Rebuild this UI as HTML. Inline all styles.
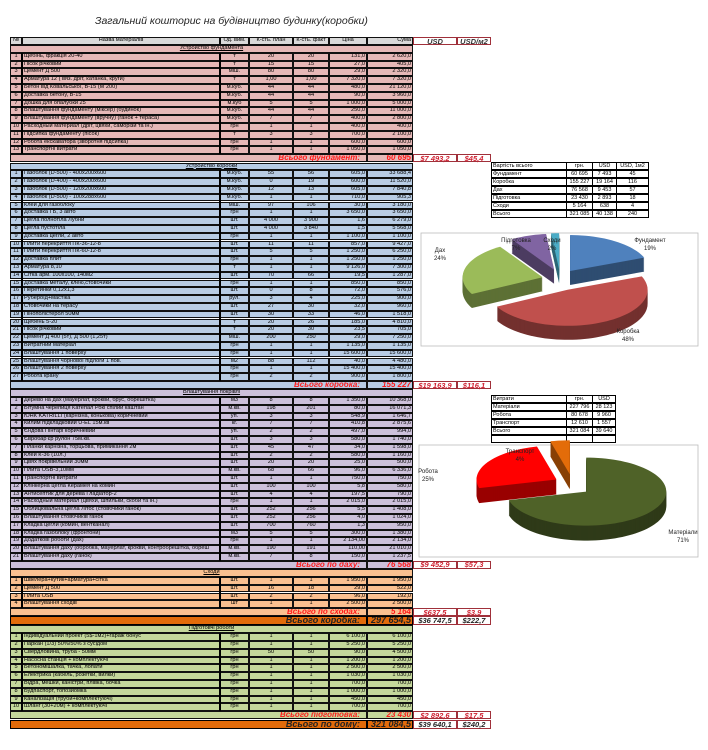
<!DOCTYPE html>
<html><head><meta charset="utf-8">
<style>
body{margin:0;background:#fff;width:708px;height:750px;overflow:hidden;font-family:"Liberation Sans",sans-serif;position:relative}
.c{position:absolute;box-sizing:border-box;border:0.6px solid #111;font-size:5.6px;line-height:1;white-space:nowrap;overflow:hidden;padding:0 1px;display:flex;align-items:center}
.l{justify-content:flex-start}.m{justify-content:center}.r{justify-content:flex-end}
.tot{color:#ff1a1a;font-style:italic;font-weight:bold;font-size:8px}
.usd{position:absolute;box-sizing:border-box;border:1px solid #a0303a;background:#fff;color:#d02030;font-style:italic;font-weight:bold;font-size:7.5px;display:flex;align-items:center;justify-content:center}
.tb{position:absolute;box-sizing:border-box;border:1px solid #000;font-size:5.5px;display:flex;align-items:center;padding:0 1px;background:#fff}
#title{position:absolute;left:95px;top:15px;font-size:10.5px;font-style:italic;color:#222}
</style></head><body>
<div id="title">Загальний кошторис на будівництво будинку(коробки)</div>
<div id="sheet"></div>
<svg id="charts" width="708" height="750" style="position:absolute;left:0;top:0;pointer-events:none"></svg>
<script>
const fundRows=["Щебінь, фракція 20-40|т|20|20|131,0|2 620,0","Пісок річковий|т|15|15|27,0|405,0","Цемент Д 500|міш.|80|80|29,0|2 320,0","Арматура 12 ( вяз. дріт, катанка, круги)|т|1,00|1,00|7 320,0|7 320,0","Бетон від Ковальської, В-15 (М 200)|м.куб.|44|44|480,0|21 120,0","Доставка бетону, В-15|м.куб.|44|44|90,0|3 960,0","Дошка для опалубки 25|м.куб|5|5|1 000,0|5 000,0","Влаштування фундаменту (міксер) (будинок)|м.куб.|44|44|250,0|11 000,0","Влаштування фундаменту (вручну) (ганок + тераса)|м.куб.|7|7|400,0|2 800,0","Расходный материал (дріт, цвяхи, саморізи та ін.)|грн|1|1|400,0|400,0","Підсипка фундаменту (пісок)|т|3|3|700,0|2 100,0","Робота екскаватора (зворотня підсипка)|грн|1|1|600,0|600,0","Транспортні витрати|грн|1|1|1 050,0|1 050,0"];
const korRows=["Газоблок (D-500) - 400x200x600|м.куб.|55|56|605,0|33 688,4","Газоблок (D-400) - 400x200x600|м.куб.|0|19|600,0|11 520,0","Газоблок (D-500) - 120x200x600|м.куб.|12|13|605,0|7 840,8","Газоблок (D-500) - 100x288x600|м.куб.|1|1|710,0|905,3","Клей для газоблоку|міш.|97|106|30,0|3 180,0","Доставка  ГБ, 3 авто|грн|1|1|3 650,0|3 650,0","Цегла  полнотіла Лубни|шт.|4 000|3 900|1,6|6 279,0","Цегла  пустотіла|шт.|4 000|3 840|1,5|5 568,0","Доставка  цегли, 2 авто|грн|1|1|1 100,0|1 100,0","Плити перекриття ПК-36-12-8|шт.|11|11|857,0|9 427,0","Плити перекриття ПК-60-12-8|шт.|5|5|1 250,0|6 250,0","Доставка плит|грн|1|1|1 250,0|1 250,0","Арматура 8,10|т|1|1|9 126,0|7 300,0","Сітка арм. 100x100, 140м2|шт.|70|66|19,5|1 287,0","Доставка металу, клею,стовбчики|грн|1|1|850,0|850,0","Перетинки 0,12x1,3|шт.|0|8|72,0|576,0","Рубероїд+мастіка|рул.|3|4|225,0|900,0","Стовбчики на терасу|шт.|27|30|32,0|960,0","Пінополістерол 50мм|шт.|30|33|46,0|1 518,0","Щебень 5-20|т|20|26|185,0|4 810,0","Пісок річковий|т|20|30|23,5|705,0","Цемент  Д 400 (5т),  Д 500 (1,25т)|міш.|200|250|29,0|7 250,0","Витратний матеріал|грн|1|1|1 135,0|1 135,0","Влаштування 1 поверху|грн|1|1|15 600,0|15 600,0","Влаштування чорнової підлоги 1 пов.|м2|88|112|40,0|4 480,0","Влаштування 2 поверху|грн|1|1|15 400,0|15 400,0","Робота крану|грн|2|2|900,0|1 800,0"];
const dakhRows=["Дерево на дах (мауерлат, крокви, брус, обрешітка)|м3|8|8|1 350,0|10 368,0","Бітумна черепиця Катепал Рокі спілий каштан|м.кв.|198|201|80,0|16 071,3","ЮНК KATRILLI (карнізна, конькова) коричневий|уп.|3|3|548,9|1 646,7","Килим підкладковий U-EL 15м.кв|кг.|7|7|410,8|2 875,6","Єндова Пінтарі коричневий|уп.|2|2|497,0|994,0","Євробар'єр  рулон 75м.кв.|шт.|3|3|580,0|1 740,0","Планки карнізна, торцьова, примикання 2м|шт.|45|47|34,0|1 598,0","Клей К-36 (10л.)|шт.|2|2|580,0|1 160,0","Цвях покрівельний 30мм|шт.|20|20|25,0|500,0","Плита  OSB-3,10мм|м.кв.|68|66|96,0|6 336,0","Транспортні витрати|шт.|1|1|750,0|750,0","Клінкерна цегла Керамея на комин|шт.|100|100|5,8|580,0","Антисептик для  дерева Гладіатор-2|шт.|4|4|197,5|790,0","Расходный материал (цвяхи, шпильки, скоби та ін.)|грн|1|1|2 015,0|2 015,0","Облицювальна цегла Літос (стовбчики ганок)|шт.|252|256|5,5|1 408,0","Влаштування стовбчиків ганок|шт.|252|256|4,0|1 024,0","Кладка цегли (комин, вентканал)|шт.|700|760|1,3|950,0","Кладка газоблоку (фронтони)|м3|5|5|300,0|1 380,0","Додаткові роботи (дах)|грн|1|1|2 134,00|2 134,0","Влаштування дахy (обробка, мауерлат, крокви, контробрешітка, обреш|м.кв.|190|191|110,00|21 010,0","Влаштування даху (ганок)|м.кв.|7|8|150,0|1 237,5"];
const stairRows=["Швелера+кутик+арматура+сітка|шт.|1|1|1 950,0|1 950,0","Цемент  Д 500|шт.|16|18|29,0|522,0","Плита  OSB|шт.|2|2|96,0|192,0","Влаштування сходів|шт|1|1|2 500,0|2 500,0"];
const prepRows=["Індивідуальний проект (5$-1м2)+гараж бонус|грн|1|1|6 100,0|6 100,0","Паркан (1/3) 50%/50% з сусідом|грн|1|1|5 250,0|5 250,0","Свердловина, труба - 50мм|грн|50|50|90,0|4 500,0","Насосна станція + комплектуючі|грн|1|1|1 200,0|1 200,0","Бетономішалка, тачка, лопати|грн|1|1|2 500,0|2 500,0","Електрика (кабель, розетки, вилки)|грн|1|1|1 030,0|1 030,0","Відра, мешки, каністри, плівка, бочка|грн|1|1|700,0|700,0","Будпаспорт, топозйомка|грн|1|1|1 000,0|1 000,0","Каналізація (труби+комплектуючі)|грн|1|1|450,0|450,0","Шланг (30+20м) + комплектуючі|грн|1|1|700,0|700,0"];

const sheet=document.getElementById('sheet');
const X=[10,22,220,249,293,329,367,413,457,491];
const R=7.8;
function cell(x,y,w,h,txt,cls,bg,name){const d=document.createElement('div');d.className='c '+cls;d.style.cssText=`left:${x}px;top:${y}px;width:${w}px;height:${h}px;background:${bg}`;d.textContent=txt;


sheet.appendChild(d);return d;}
function usd(x,y,w,h,txt,color,name){const d=document.createElement('div');d.className='usd';d.style.cssText=`left:${x}px;top:${y}px;width:${w}px;height:${h}px;`+(color?`color:${color}`:'');d.textContent=txt;


sheet.appendChild(d);}
function vbar(x,y,h,name){const d=document.createElement('div');d.style.cssText=`position:absolute;left:${x-1}px;top:${y}px;width:2px;height:${h}px;background:#000`;


sheet.appendChild(d);}

const hdr=["№","Назва матеріалів","Од. вим.","К-сть. план","К-сть. факт","Ціна","Сума"];
let y=37;
hdr.forEach((t,i)=>cell(X[i],y,X[i+1]-X[i],8,t,i==6?'r':'m','#d9d9d9','header-'+i));
usd(413,37,44,8,'USD','#333','usd-header');usd(457,37,34,8,'USD/м2','#333','usd-m2-header');
y=45;
function section(title,rows,bg,totLabel,totVal,u1,u2,key){
  cell(10,y,403,R,title,'m',bg,key+'-section-title').style.textDecoration='underline';y+=R;
  const y0=y;
  rows.forEach((r,i)=>{const p=r.split('|');const vals=[String(i+1),...p];
    vals.forEach((t,j)=>cell(X[j],y,X[j+1]-X[j],R,t,j==1?'l':(j>=5?'r':'m'),bg,key+'-row-'+(i+1)+'-col-'+j));y+=R;});
  vbar(22,y0,y-y0,key+'-divider-left');vbar(220,y0,y-y0,key+'-divider-right');
  const t=cell(10,y,357,R+0.5,totLabel,'r tot',bg,key+'-total-label');t.style.paddingRight='6px';
  cell(367,y,46,R+0.5,totVal,'r tot',bg,key+'-total-value');
  if(u1){usd(413,y,44,R+0.5,u1,null,key+'-total-usd');usd(457,y,34,R+0.5,u2,null,key+'-total-usd-m2');}
  y+=R+0.5;
}
section('Устройство фундамента',fundRows,'#e6b8b7','Всього  фундамент:','60 695','$7 493,2','$45,4','fund');
section('Устройство коробки',korRows,'#b8cce4','Всього коробка:','155 227','$19 163,9','$116,1','box');
section('Влаштування покрівлі',dakhRows,'#ccc0da','Всього по даху:','76 568','$9 452,9','$57,3','roof');
section('Сходи',stairRows,'#fac090','Всього по сходах:','5 164','$637,5','$3,9','stairs');
let t=cell(10,y,357,9,'Всього коробка:','r tot','#e26b0a','grand-box-label');t.style.color='#222';t.style.fontSize='9px';t.style.paddingRight='6px';t.style.border='1.5px solid #000';
t=cell(367,y,46,9,'297 654,5','r tot','#e26b0a','grand-box-value');t.style.color='#222';t.style.fontSize='9px';t.style.border='1.5px solid #000';
usd(413,y,44,9,'$36 747,5','#222','grand-box-usd');usd(457,y,34,9,'$222,7','#222','grand-box-usd-m2');
y+=9;
section('Підготовчі роботи',prepRows,'#c4d79b','Всього підготовка:','23 430','$2 892,6','$17,5','prep');
t=cell(10,y,357,9,'Всього по дому:','r tot','#e26b0a','grand-house-label');t.style.color='#222';t.style.fontSize='9px';t.style.paddingRight='6px';t.style.border='1.5px solid #000';
t=cell(367,y,46,9,'321 084,5','r tot','#e26b0a','grand-house-value');t.style.color='#222';t.style.fontSize='9px';t.style.border='1.5px solid #000';
usd(413,y,44,9,'$39 640,1','#222','grand-house-usd');usd(457,y,34,9,'$240,2','#222','grand-house-usd-m2');

const sum1Labels=["Вартість всього","Фундамент","Коробка","Дах","Підготовка","Сходи","Всього"];
const sum1Uah=["грн.","60 695","155 227","76 568","23 430","5 164","321 085"];
const sum1Usd=["USD","7 493","19 164","9 453","2 893","638","40 138"];
const sum1M2=["USD, 1м2","45","116","57","18","4","240"];
function stable(x0,y0,cols,widths,h,key){
  cols[0].forEach((_,i)=>{let x=x0;cols.forEach((c,j)=>{const d=document.createElement('div');d.className='tb';d.style.cssText=`left:${x}px;top:${y0+i*h}px;width:${widths[j]}px;height:${h}px;justify-content:${j?'center':'flex-start'}`;d.textContent=c[i];
  
  
  sheet.appendChild(d);x+=widths[j]-1;});});
}
stable(491,162,[sum1Labels,sum1Uah,sum1Usd,sum1M2],[76,27,25,33],8,'cost-summary');
const sum2Labels=["Витрати","Матеріали","Робота","Транспорт","Всього",""];
const sum2Uah=["грн.","227 796","80 678","12 610","321 084",""];
const sum2Usd=["USD","28 123","9 960","1 557","39 640",""];
stable(491,395,[sum2Labels,sum2Uah,sum2Usd],[76,27,24],8,'expense-summary');

const pie1Labels=["Фундамент","Коробка","Дах","Підготовка","Сходи"];
const pie1Values=[60695,155227,76568,23430,5164];
const pie1Colors=["#4f81bd","#c0504d","#9bbb59","#8064a2","#4bacc6"];
const pie2Labels=["Матеріали","Робота","Транспорт"];
const pie2Values=[227796,80678,12610];
const pie2Colors=["#4f6228","#ff0000","#e36c09"];
const svg=document.getElementById('charts');
const NS='http://www.w3.org/2000/svg';
function shade(hex,f){const n=parseInt(hex.slice(1),16);let r=n>>16,g=(n>>8)&255,b=n&255;return `rgb(${r*f|0},${g*f|0},${b*f|0})`;}
function el(tag,attrs,name){const e=document.createElementNS(NS,tag);for(const k in attrs)e.setAttribute(k,attrs[k]);


svg.appendChild(e);return e;}
function pie(box,cx,cy,rx,ry,depth,exp,labels,values,colors,labelPos,key){
  el('rect',{x:box[0],y:box[1],width:box[2],height:box[3],fill:'#fff',stroke:'#bbb','stroke-width':0.8},key+'-frame');
  const tot=values.reduce((a,b)=>a+b,0);
  let a=-Math.PI/2;const sl=[];
  values.forEach((v,i)=>{const da=v/tot*2*Math.PI;const mid=a+da/2;sl.push({a0:a,a1:a+da,ox:Math.cos(mid)*exp,oy:Math.sin(mid)*exp*0.6,i});a+=da;});
  function path(s,dy){const n=Math.max(4,Math.ceil((s.a1-s.a0)*20));let d=`M${cx+s.ox},${cy+s.oy+dy}`;for(let k=0;k<=n;k++){const t=s.a0+(s.a1-s.a0)*k/n;d+=`L${cx+s.ox+Math.cos(t)*rx},${cy+s.oy+dy+Math.sin(t)*ry}`;}return d+'Z';}
  for(let dy=depth;dy>0;dy-=1)sl.forEach(s=>el('path',{d:path(s,dy),fill:shade(colors[s.i],0.6)},key+'-side-'+labels[s.i]));
  sl.forEach(s=>el('path',{d:path(s,0),fill:colors[s.i]},key+'-slice-'+labels[s.i]));
  sl.forEach(s=>{const p=labelPos[s.i];const pct=Math.round(values[s.i]/tot*100)+'%';
    const t1=el('text',{x:p[0],y:p[1],'font-size':6,'font-family':'Liberation Sans, sans-serif','text-anchor':'middle',fill:'#222'},key+'-label-'+labels[s.i]);t1.textContent=labels[s.i];
    const t2=el('text',{x:p[0],y:p[1]+8,'font-size':6,'font-family':'Liberation Sans, sans-serif','text-anchor':'middle',fill:'#222'},key+'-pct-'+labels[s.i]);t2.textContent=pct;});
}
pie([421,233,277,113],560,280,80,36,14,18,pie1Labels,pie1Values,pie1Colors,[[650,242],[628,333],[440,252],[516,242],[552,242]],'cost-pie');
pie([419,445,279,112],572,485,80,34,15,18,pie2Labels,pie2Values,pie2Colors,[[683,534],[428,473],[520,453]],'expense-pie');
</script>
</body></html>
